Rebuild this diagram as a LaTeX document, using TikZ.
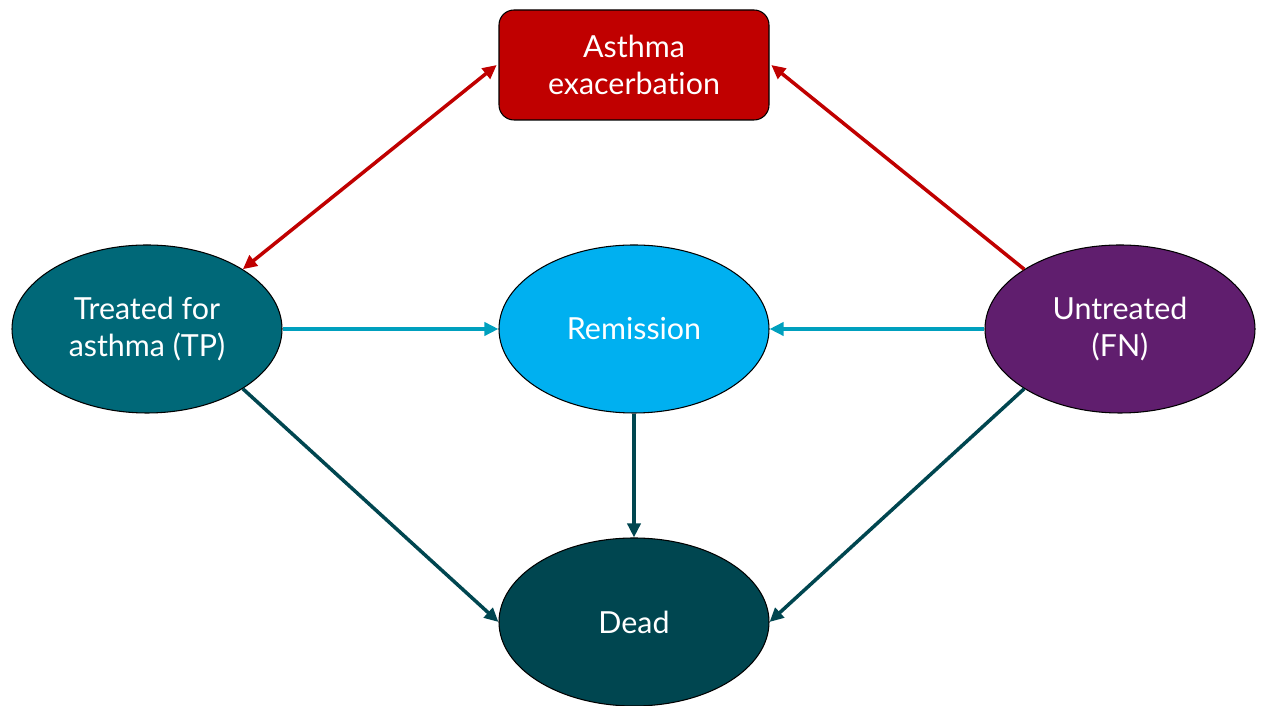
\documentclass[tikz,border=0pt]{standalone}
\usepackage{fontspec}
\setmainfont{Lato}[RawFeature=-liga]
\usepackage{tikz}
\usetikzlibrary{arrows.meta, shapes.geometric, positioning}

\definecolor{ExacRed}{RGB}{192,0,0}
\definecolor{TreatTeal}{RGB}{0,104,120}
\definecolor{RemBlue}{RGB}{0,176,240}
\definecolor{UntrPurple}{RGB}{96,30,110}
\definecolor{DeadTeal}{RGB}{0,70,80}
\definecolor{FlowCyan}{RGB}{0,160,190}

\tikzstyle{state} = [ellipse, draw=black, line width=0.6pt, text=white, align=center, minimum width=5.4cm, minimum height=3.36cm, inner sep=0pt, font=\fontsize{17.3}{21}\selectfont]
\tikzstyle{flow} = [line width=2pt, -{Triangle[length=0.28cm, width=0.26cm]}]

\begin{document}
\begin{tikzpicture}
\useasboundingbox (0,0) rectangle (25.28,14.12);

% states
\node[draw=black, line width=0.6pt, fill=ExacRed, rounded corners=0.3cm, text=white, align=center, minimum width=5.4cm, minimum height=2.2cm, font=\fontsize{17.3}{21}\selectfont] (exac) at (12.68,12.82) {Asthma\\exacerbation};
\node[state, fill=TreatTeal] (treated) at (2.94,7.54) {Treated for\\asthma (TP)};
\node[state, fill=RemBlue] (remission) at (12.68,7.54) {Remission};
\node[state, fill=UntrPurple] (untreated) at (22.40,7.54) {Untreated\\(FN)};
\node[state, fill=DeadTeal] (dead) at (12.68,1.68) {Dead};

% transitions
\draw[flow, ExacRed, {Triangle[length=0.28cm, width=0.26cm]}-{Triangle[length=0.28cm, width=0.26cm]}] (treated.north east) -- ([xshift=-1pt]exac.west);
\draw[flow, ExacRed] (untreated.north west) -- ([xshift=1pt]exac.east);
\draw[flow, FlowCyan] (treated.east) -- (remission.west);
\draw[flow, FlowCyan] (untreated.west) -- (remission.east);
\draw[flow, DeadTeal] (remission.south) -- (dead.north);
\draw[flow, DeadTeal] (treated.south east) -- (dead.west);
\draw[flow, DeadTeal] (untreated.south west) -- (dead.east);
\end{tikzpicture}
\end{document}
